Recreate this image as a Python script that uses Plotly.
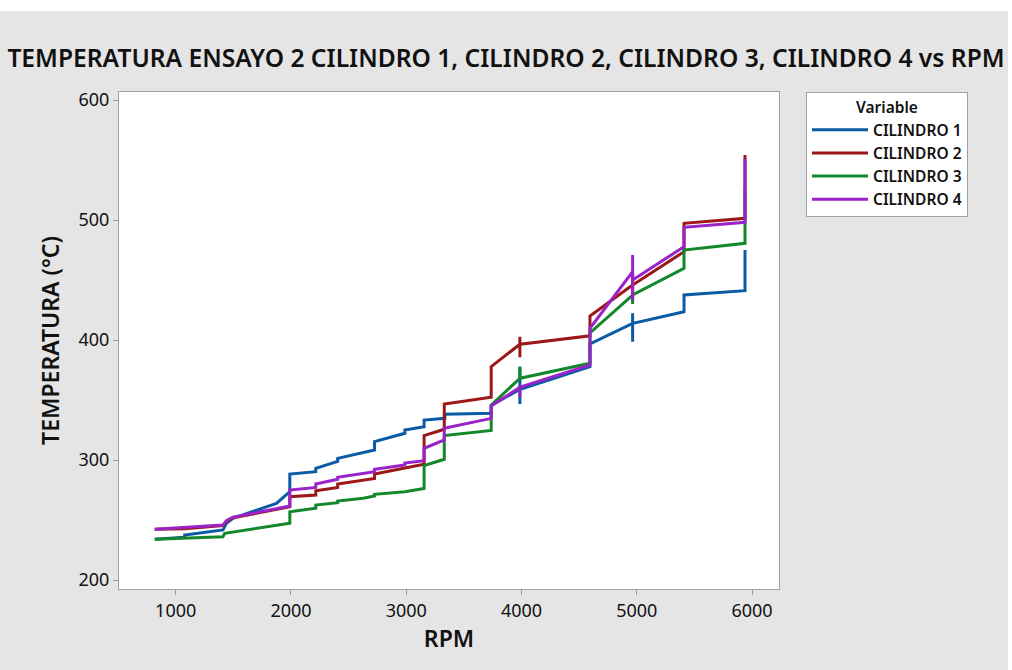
import plotly.graph_objects as go

# ---- data ----
rpm_c1 = [818, 1078, 1078, 1410, 1440, 1497, 1874, 1975, 1990, 1990, 2215, 2215, 2405, 2405,
          2725, 2725, 2988, 2988, 3155, 3155, 3335, 3335, 3737, 3737, 3986, 3986, 3986, 3986,
          4594, 4594, 4964, 4964, 4964, 4964, 5410, 5410, 5939, 5939]
temp_c1 = [233.9, 235.6, 237.5, 241.7, 247.2, 251.4, 263.9, 272.3, 273.6, 288.3, 290.3, 293.1,
           298.9, 301.4, 308.3, 315.3, 322.3, 325.0, 327.8, 333.3, 334.7, 338.1, 338.9, 345.5,
           358.9, 346.7, 377.8, 358.9, 377.8, 396.7, 413.9, 398.6, 422.3, 413.9, 423.6, 437.5,
           441.1, 475.0]

rpm_c2 = [818, 1078, 1410, 1440, 1497, 1990, 1990, 2215, 2215, 2405, 2405, 2725, 2725, 2988,
          3155, 3155, 3330, 3330, 3737, 3737, 3986, 3986, 3986, 3986, 4594, 4594, 4964, 4964,
          4964, 4964, 5410, 5410, 5939, 5939]
temp_c2 = [242.3, 242.8, 245.3, 249.0, 251.8, 261.0, 269.4, 270.8, 274.4, 277.2, 280.0, 284.7,
           288.3, 293.0, 296.5, 320.4, 325.6, 346.7, 352.3, 377.8, 396.5, 385.6, 402.8, 396.5,
           403.5, 420.0, 445.8, 455.0, 436.0, 445.8, 473.6, 497.3, 501.4, 554.2]

rpm_c3 = [818, 1410, 1425, 1990, 1990, 2215, 2215, 2405, 2405, 2626, 2725, 2725, 2988, 3155,
          3155, 3330, 3330, 3737, 3737, 3986, 3986, 3986, 4594, 4594, 4964, 4964, 4964, 5410,
          5410, 5939, 5939]
temp_c3 = [233.9, 236.1, 238.9, 247.3, 256.9, 259.8, 262.5, 264.4, 265.8, 268.1, 270.0, 271.4,
           273.6, 276.2, 295.3, 300.6, 320.4, 324.7, 345.8, 368.1, 377.8, 368.1, 380.6, 406.0,
           437.5, 430.0, 437.5, 459.8, 475.0, 480.6, 525.0]

rpm_c4 = [818, 1410, 1440, 1497, 1990, 1990, 2215, 2215, 2405, 2405, 2725, 2725, 2988, 2988,
          3155, 3155, 3330, 3330, 3737, 3737, 3986, 3986, 3986, 3986, 4594, 4594, 4964, 4964,
          4964, 4964, 5410, 5410, 5939, 5939]
temp_c4 = [242.3, 245.8, 249.5, 252.3, 261.7, 275.0, 277.2, 280.0, 283.9, 285.6, 290.3, 292.3,
           295.8, 297.5, 299.4, 309.8, 316.7, 326.4, 334.7, 345.0, 360.6, 352.0, 362.0, 360.6,
           379.2, 409.8, 456.9, 470.8, 433.0, 450.0, 477.8, 493.9, 498.1, 551.0]

series_names = ["CILINDRO 1", "CILINDRO 2", "CILINDRO 3", "CILINDRO 4"]
series_colors = ["#0b5aa6", "#9c1717", "#13882b", "#9a22c8"]

x_ticks = [1000, 2000, 3000, 4000, 5000, 6000]
y_ticks = [200, 300, 400, 500, 600]

FONT = "Noto Sans"

fig = go.Figure()
for name, xs, ys, col in zip(series_names,
                             [rpm_c1, rpm_c2, rpm_c3, rpm_c4],
                             [temp_c1, temp_c2, temp_c3, temp_c4],
                             series_colors):
    fig.add_trace(go.Scatter(x=xs, y=ys, mode="lines", name=name,
                             line=dict(color=col, width=3)))

fig.update_layout(
    width=1012, height=670,
    margin=dict(l=119, r=233, t=92, b=81),
    paper_bgcolor="#e5e5e5",
    plot_bgcolor="#ffffff",
    font=dict(family=FONT, color="#1a1a1a"),
    title=dict(text="TEMPERATURA ENSAYO 2 CILINDRO 1, CILINDRO 2, CILINDRO 3, CILINDRO 4 vs RPM",
               x=0.5, xanchor="center", xref="container",
               y=1 - 58 / 670, yanchor="middle", yref="container",
               font=dict(family=FONT, size=24.6, weight=600, color="#111111")),
    legend=dict(x=(806 - 119) / 660, y=1.0, xanchor="left", yanchor="top",
                bgcolor="#ffffff", bordercolor="#a0a0a0", borderwidth=1,
                itemwidth=56,
                font=dict(family=FONT, size=15.5, weight=600, color="#111111"),
                title=dict(text="Variable", side="top center",
                           font=dict(family=FONT, size=15.5, weight=600, color="#111111")),
                tracegroupgap=0),
    showlegend=True,
)
fig.update_xaxes(range=[508, 6234], tickvals=x_ticks, ticks="outside", ticklen=5,
                 tickcolor="#9a9a9a", showline=True, linecolor="#a0a0a0", linewidth=1,
                 mirror=True, showgrid=False, zeroline=False,
                 tickfont=dict(family=FONT, size=18, color="#111111"),
                 title=dict(text="RPM", standoff=6,
                            font=dict(family=FONT, size=23, weight=600, color="#111111")))
fig.update_yaxes(range=[192.5, 606.7], tickvals=y_ticks, ticks="outside", ticklen=5,
                 tickcolor="#9a9a9a", showline=True, linecolor="#a0a0a0", linewidth=1,
                 mirror=True, showgrid=False, zeroline=False,
                 tickfont=dict(family=FONT, size=18, color="#111111"),
                 title=dict(text="TEMPERATURA (°C)", standoff=12,
                            font=dict(family=FONT, size=23, weight=600, color="#111111")))

# white strips along the top and right edge of the picture
fig.add_shape(type="rect", xref="paper", yref="paper", layer="below",
              x0=-1, x1=3, y0=(589 - 11) / 497, y1=2, fillcolor="#ffffff", line_width=0)
fig.add_shape(type="rect", xref="paper", yref="paper", layer="below",
              x0=(1008 - 119) / 660, x1=3, y0=-1, y1=2, fillcolor="#ffffff", line_width=0)

fig.write_html("out.html")
